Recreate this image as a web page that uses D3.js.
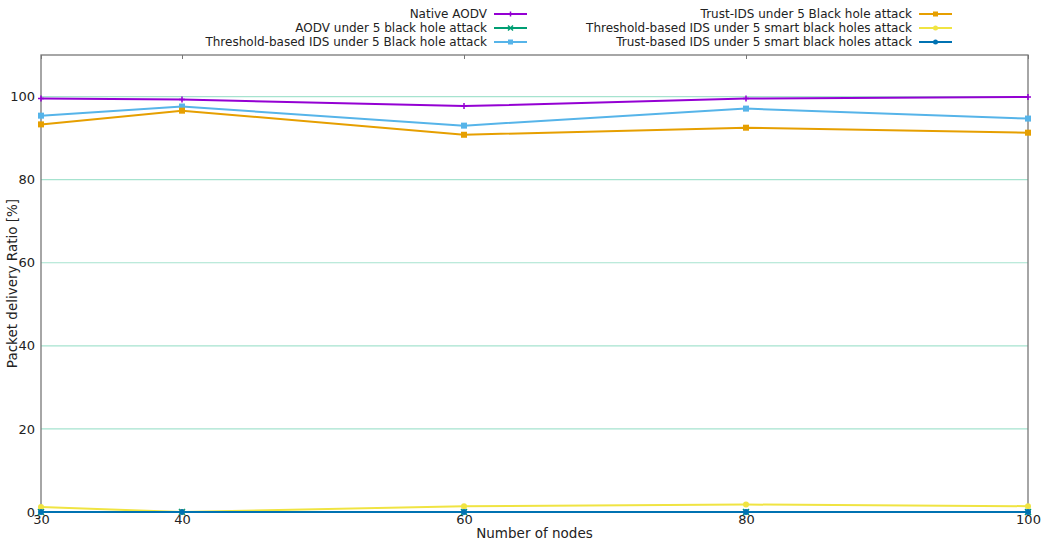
<!DOCTYPE html>
<html>
<head>
<meta charset="utf-8">
<script src="https://cdn.jsdelivr.net/npm/d3@7"></script>
<style>
  body { margin: 0; background: #fff; }
  svg text { font-family: "DejaVu Sans", sans-serif; fill: #222; }
</style>
</head>
<body>
<div id="chart"></div>
<script>
const nodes = [30, 40, 60, 80, 100]
const nativeAodv = [99.5, 99.3, 97.7, 99.5, 99.9]
const aodvBlackHole = [0, 0, 0, 0, 0]
const thresholdIds = [95.4, 97.6, 93.0, 97.1, 94.7]
const trustIds = [93.3, 96.6, 90.8, 92.5, 91.3]
const thresholdSmart = [1.2, 0, 1.4, 1.8, 1.4]
const trustSmart = [0, 0, 0, 0, 0]
const yTicks = [0, 20, 40, 60, 80, 100]
const xTicks = [30, 40, 60, 80, 100]

const series = [
  { name: "Native AODV", values: nativeAodv, color: "#9400d3", marker: "plus" },
  { name: "AODV under 5 black hole attack", values: aodvBlackHole, color: "#009e73", marker: "x" },
  { name: "Threshold-based IDS under 5 Black hole attack", values: thresholdIds, color: "#56b4e9", marker: "square" },
  { name: "Trust-IDS under 5 Black hole attack", values: trustIds, color: "#e69f00", marker: "square" },
  { name: "Threshold-based IDS under 5 smart black holes attack", values: thresholdSmart, color: "#f0e442", marker: "dot" },
  { name: "Trust-based IDS under 5 smart black holes attack", values: trustSmart, color: "#0072b2", marker: "dot" }
]

const width = 1045, height = 542
const margin = { top: 55, right: 17, bottom: 30, left: 41 }

const svg = d3.select("#chart").append("svg")
  .attr("width", width)
  .attr("height", height)

const x = d3.scaleLinear().domain([30, 100]).range([margin.left, width - margin.right])
const y = d3.scaleLinear().domain([0, 110]).range([height - margin.bottom, margin.top])

// grid lines
svg.append("g")
  .selectAll("line")
  .data(yTicks.filter(d => d > 0))
  .join("line")
  .attr("x1", x(30))
  .attr("x2", x(100))
  .attr("y1", d => y(d))
  .attr("y2", d => y(d))
  .attr("stroke", "#a6e3cf")
  .attr("stroke-width", 1.2)

// frame
const frameColor = "#777"
svg.append("rect")
  .attr("x", x(30))
  .attr("y", y(110))
  .attr("width", x(100) - x(30))
  .attr("height", y(0) - y(110))
  .attr("fill", "none")
  .attr("stroke", frameColor)
  .attr("stroke-width", 1.3)

// inward ticks on top
svg.append("g")
  .attr("transform", `translate(0,${y(110)})`)
  .call(d3.axisBottom(x).tickValues(xTicks).tickSize(4).tickFormat(""))
  .call(g => g.select(".domain").remove())
  .call(g => g.selectAll("line").attr("stroke", frameColor))

// tick labels
const xAxis = svg.append("g")
  .attr("transform", `translate(0,${y(0)})`)
  .call(d3.axisBottom(x).tickValues(xTicks).tickSize(0).tickPadding(3))
xAxis.select(".domain").remove()
xAxis.selectAll("text").style("font-size", "13px").attr("fill", "#222")

const yAxis = svg.append("g")
  .attr("transform", `translate(${x(30)},0)`)
  .call(d3.axisLeft(y).tickValues(yTicks).tickSize(0).tickPadding(6))
yAxis.select(".domain").remove()
yAxis.selectAll("text").style("font-size", "13px").attr("fill", "#222")

svg.append("text")
  .attr("x", (x(30) + x(100)) / 2)
  .attr("y", 538)
  .attr("text-anchor", "middle")
  .style("font-size", "13.5px")
  .text("Number of nodes")

svg.append("text")
  .attr("transform", `translate(17,${(y(0) + y(110)) / 2}) rotate(-90)`)
  .attr("text-anchor", "middle")
  .style("font-size", "13.5px")
  .text("Packet delivery Ratio [%]")

const line = d3.line()
  .x((d, i) => x(nodes[i]))
  .y(d => y(d))

function drawMarker(g, type, color, px, py, s) {
  if (type === "square") {
    g.append("rect").attr("x", px - s / 2).attr("y", py - s / 2)
      .attr("width", s).attr("height", s).attr("fill", color)
  } else if (type === "dot") {
    g.append("circle").attr("cx", px).attr("cy", py).attr("r", s / 2).attr("fill", color)
  } else if (type === "plus") {
    g.append("path").attr("d", `M${px - s / 2},${py}H${px + s / 2}M${px},${py - s / 2}V${py + s / 2}`)
      .attr("stroke", color).attr("stroke-width", 1.5)
  } else if (type === "x") {
    const h = s / 2
    g.append("path").attr("d", `M${px - h},${py - h}L${px + h},${py + h}M${px - h},${py + h}L${px + h},${py - h}`)
      .attr("stroke", color).attr("stroke-width", 1.5)
  }
}

// data lines
const plot = svg.append("g")
series.forEach(s => {
  plot.append("path")
    .datum(s.values)
    .attr("d", line)
    .attr("fill", "none")
    .attr("stroke", s.color)
    .attr("stroke-width", 2)
  s.values.forEach((v, i) => {
    drawMarker(plot, s.marker, s.color, x(nodes[i]), y(v), 6)
  })
})

// legend in two columns
const legend = svg.append("g")
series.forEach((s, i) => {
  const col = Math.floor(i / 3)
  const row = i % 3
  const right = col === 0 ? 487 : 912
  const ly = 14 + row * 14
  legend.append("text")
    .attr("x", right)
    .attr("y", ly)
    .attr("dy", "0.35em")
    .attr("text-anchor", "end")
    .style("font-size", "12px")
    .text(s.name)
  legend.append("line")
    .attr("x1", right + 7)
    .attr("x2", right + 40)
    .attr("y1", ly)
    .attr("y2", ly)
    .attr("stroke", s.color)
    .attr("stroke-width", 2)
  drawMarker(legend, s.marker, s.color, right + 23.5, ly, 5)
})
</script>
</body>
</html>
